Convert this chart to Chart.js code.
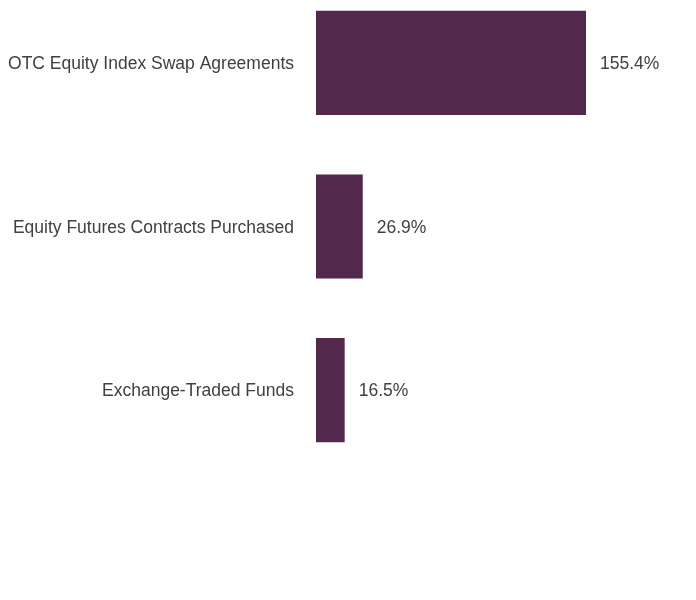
<!DOCTYPE html>
<html>
<head>
<meta charset="utf-8">
<script src="https://cdn.jsdelivr.net/npm/chart.js@4"></script>
<style>
  html, body { margin: 0; padding: 0; background: #fff; overflow: hidden; }
  #wrap { position: absolute; left: 0; top: -19px; width: 696px; height: 491px; }
</style>
</head>
<body>
<div id="wrap"><canvas id="c"></canvas></div>
<script>
const categories = ["OTC Equity Index Swap Agreements", "Equity Futures Contracts Purchased", "Exchange-Traded Funds"];
const values = [155.4, 26.9, 16.5];
const valueLabels = ["155.4%", "26.9%", "16.5%"];

const FONT = "'Liberation Sans', Arial, sans-serif";
const FONT_SIZE = 17.5;

const valueLabelPlugin = {
  id: 'valueLabels',
  afterDatasetsDraw(chart) {
    const ctx = chart.ctx;
    const meta = chart.getDatasetMeta(0);
    ctx.save();
    ctx.font = FONT_SIZE + "px " + FONT;
    ctx.fillStyle = "#404040";
    ctx.textAlign = "left";
    ctx.textBaseline = "middle";
    meta.data.forEach((bar, i) => {
      ctx.fillText(valueLabels[i], bar.x + 14, bar.y + 1.5);
    });
    ctx.restore();
  }
};

new Chart(document.getElementById('c'), {
  type: 'bar',
  data: {
    labels: categories,
    datasets: [{
      data: values,
      backgroundColor: '#52284C',
      borderWidth: 0,
      categoryPercentage: 1,
      barPercentage: 0.636
    }]
  },
  options: {
    indexAxis: 'y',
    responsive: true,
    maintainAspectRatio: false,
    animation: false,
    layout: { padding: { left: 0, right: 32.5, top: 0, bottom: 0 } },
    plugins: { legend: { display: false }, tooltip: { enabled: false } },
    scales: {
      x: { display: false, min: 0, max: 200 },
      y: {
        grid: { display: false, drawTicks: false },
        border: { display: false },
        ticks: { color: '#404040', font: { family: FONT, size: FONT_SIZE }, padding: 22, labelOffset: 1.5 },
        afterFit(scale) {
          scale.width = 316;
          scale.paddingTop = 0;
          scale.paddingBottom = 0;
        }
      }
    }
  },
  plugins: [valueLabelPlugin]
});
</script>
</body>
</html>
